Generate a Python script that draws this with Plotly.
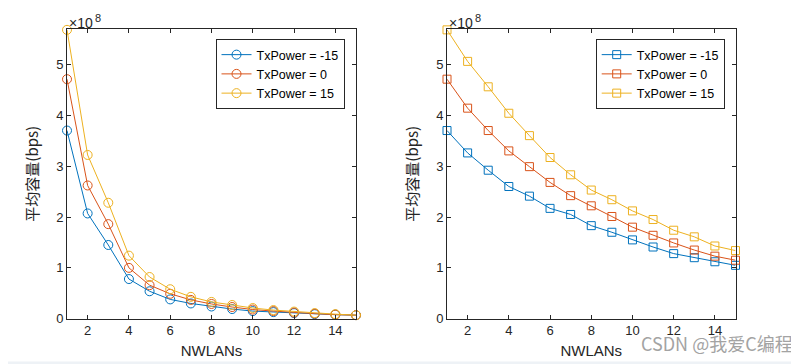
import plotly.graph_objects as go

nwlans = list(range(1, 16))
labels = ["TxPower = -15", "TxPower = 0", "TxPower = 15"]
colors = ["#0072BD", "#D95319", "#EDB120"]

# values in units of 1e8 bps
left_m15 = [3.70, 2.07, 1.45, 0.78, 0.54, 0.38, 0.30, 0.24, 0.19, 0.15, 0.13, 0.11, 0.09, 0.08, 0.07]
left_0 = [4.71, 2.62, 1.86, 1.00, 0.66, 0.49, 0.37, 0.29, 0.23, 0.18, 0.15, 0.12, 0.10, 0.08, 0.07]
left_15 = [5.68, 3.22, 2.28, 1.24, 0.82, 0.58, 0.43, 0.33, 0.27, 0.21, 0.17, 0.14, 0.11, 0.09, 0.07]

right_m15 = [3.70, 3.26, 2.92, 2.60, 2.41, 2.17, 2.05, 1.83, 1.70, 1.55, 1.41, 1.28, 1.20, 1.12, 1.05]
right_0 = [4.71, 4.14, 3.70, 3.30, 2.99, 2.68, 2.42, 2.22, 2.01, 1.80, 1.64, 1.49, 1.35, 1.23, 1.15]
right_15 = [5.68, 5.06, 4.56, 4.04, 3.60, 3.17, 2.83, 2.53, 2.34, 2.12, 1.95, 1.74, 1.61, 1.43, 1.34]

xticks = [2, 4, 6, 8, 10, 12, 14]
yticks = [0, 1, 2, 3, 4, 5]

fig = go.Figure()
font_main = "Liberation Sans, Arial, sans-serif"
axc = "#262626"

for ys, name, c in zip([left_m15, left_0, left_15], labels, colors):
    fig.add_trace(go.Scatter(x=nwlans, y=ys, name=name, mode="lines+markers",
                             line=dict(color=c, width=1),
                             marker=dict(symbol="circle-open", size=9, color=c, line=dict(width=1)),
                             xaxis="x", yaxis="y", legend="legend", cliponaxis=False))
for ys, name, c in zip([right_m15, right_0, right_15], labels, colors):
    fig.add_trace(go.Scatter(x=nwlans, y=ys, name=name, mode="lines+markers",
                             line=dict(color=c, width=1),
                             marker=dict(symbol="square-open", size=8, color=c, line=dict(width=1)),
                             xaxis="x2", yaxis="y2", legend="legend2", cliponaxis=False))

ydom = [1 - 317.7 / 364, 1 - 21.3 / 364]
axis_common = dict(showline=True, mirror="ticks", linecolor=axc, linewidth=1,
                   ticks="inside", ticklen=4, tickcolor=axc, showgrid=False, zeroline=False,
                   tickfont=dict(family=font_main, size=13, color=axc))
ytitle_font = dict(size=15, color=axc, family="Noto Sans CJK SC, sans-serif")
xtitle_font = dict(size=15, color=axc, family=font_main)
legend_common = dict(xanchor="left", yanchor="top", bgcolor="white",
                     bordercolor="#262626", borderwidth=1,
                     font=dict(size=12.5, family=font_main, color="#000"),
                     tracegroupgap=0, itemwidth=30)

fig.update_layout(
    width=799, height=364,
    margin=dict(l=0, r=0, t=0, b=0),
    paper_bgcolor="white", plot_bgcolor="white",
    font=dict(family=font_main, color=axc),
    xaxis=dict(domain=[59 / 799, 348 / 799], range=[1, 15], tickvals=xticks,
               title=dict(text="NWLANs", font=xtitle_font, standoff=8),
               anchor="y", **axis_common),
    yaxis=dict(domain=ydom, range=[0, 5.7], tickvals=yticks,
               title=dict(text="平均容量(bps)", font=ytitle_font, standoff=13),
               anchor="x", **axis_common),
    xaxis2=dict(domain=[439 / 799, 727.5 / 799], range=[1, 15], tickvals=xticks,
                title=dict(text="NWLANs", font=xtitle_font, standoff=8),
                anchor="y2", **axis_common),
    yaxis2=dict(domain=ydom, range=[0, 5.7], tickvals=yticks,
                title=dict(text="平均容量(bps)", font=ytitle_font, standoff=13),
                anchor="x2", **axis_common),
    legend=dict(x=207.5 / 799, y=1 - 31.7 / 364, **legend_common),
    legend2=dict(x=587.7 / 799, y=1 - 31.7 / 364, **legend_common),
    showlegend=True,
)

for xref, yref in [("x", "y"), ("x2", "y2")]:
    fig.add_annotation(x=0, y=1, xref=f"{xref} domain", yref=f"{yref} domain",
                       text="×10", showarrow=False, xanchor="left", yanchor="bottom",
                       xshift=0, yshift=-4, font=dict(size=14, family=font_main, color=axc))
    fig.add_annotation(x=0, y=1, xref=f"{xref} domain", yref=f"{yref} domain",
                       text="8", showarrow=False, xanchor="left", yanchor="bottom",
                       xshift=26, yshift=3, font=dict(size=11, family=font_main, color=axc))

fig.add_annotation(x=787 / 799, y=1 - 343 / 364, xref="paper", yref="paper",
                   text="CSDN @我爱C编程", showarrow=False, xanchor="right", yanchor="middle",
                   font=dict(size=18, family="Noto Sans CJK SC, sans-serif", color="#a3a3a3"))

fig.add_shape(type="rect", xref="paper", yref="paper", x0=0, x1=1, y0=0, y1=2.5 / 364,
              fillcolor="#eef2f6", line=dict(width=0), layer="below")

fig.write_html("out.html")
